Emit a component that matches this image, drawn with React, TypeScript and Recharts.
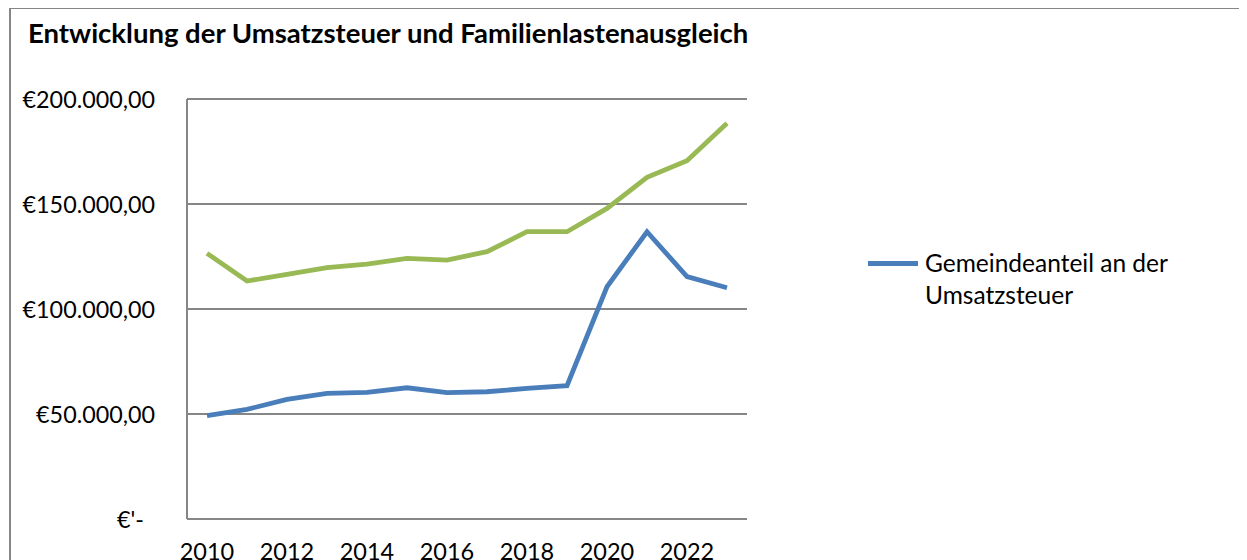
import React from 'react';
import { LineChart, Line, XAxis, YAxis, CartesianGrid, Legend } from 'recharts';

const years = ['2010', '2011', '2012', '2013', '2014', '2015', '2016', '2017', '2018', '2019', '2020', '2021', '2022', '2023'];
const gemeindeanteil = [49200, 52200, 57000, 59800, 60300, 62500, 60200, 60600, 62200, 63500, 110600, 136800, 115400, 110100];
const familienlasten = [126500, 113300, 116500, 119700, 121400, 124100, 123300, 127300, 136800, 136800, 147900, 162700, 170600, 188400];
const yTicks = [0, 50000, 100000, 150000, 200000];
const yTickLabels = ["€'-", '€50.000,00', '€100.000,00', '€150.000,00', '€200.000,00'];

const seriesBlue = 'Gemeindeanteil an der Umsatzsteuer';
const seriesGreen = 'Familienlastenausgleich';
const title = 'Entwicklung der Umsatzsteuer und Familienlastenausgleich';

const data = years.map((y, i) => ({ year: y, blue: gemeindeanteil[i], green: familienlasten[i] }));

const BLUE = '#4A7EBB';
const GREEN = '#98B954';
const GRID = '#868686';
const FONT = 'Lato, "Liberation Sans", sans-serif';

const YTick = (props: any) => {
  const { x, y, payload } = props;
  const idx = yTicks.indexOf(payload.value);
  const label = idx >= 0 ? yTickLabels[idx] : String(payload.value);
  const extra = payload.value === 0 ? -11 : 0;
  return (
    <text x={x + extra} y={y} dy={8.5} textAnchor="end" fontFamily={FONT} fontSize={23.3} fill="#000">
      {label}
    </text>
  );
};

const renderLegend = (props: any) => {
  const items = (props.payload || []).filter((p: any) => p.type !== 'none');
  return (
    <div>
      {items.map((p: any, i: number) => (
        <div key={i} style={{ display: 'flex', alignItems: 'flex-start', fontFamily: FONT, fontSize: 24.5, color: '#000' }}>
          <div style={{ width: 50, height: 5, background: p.color, marginTop: 13.5, flex: 'none' }} />
          <div style={{ marginLeft: 7, lineHeight: '32px', width: 290 }}>{p.value}</div>
        </div>
      ))}
    </div>
  );
};

export default function App() {
  return (
    <div
      style={{
        position: 'relative',
        marginLeft: 1,
        marginTop: -1,
        width: 1260,
        height: 580,
        border: `2px solid ${GRID}`,
        background: '#fff',
      }}
    >
      <div
        style={{
          position: 'absolute',
          left: 17,
          top: 7,
          fontFamily: FONT,
          fontWeight: 700,
          fontSize: 27.5,
          lineHeight: '34px',
          color: '#000',
          whiteSpace: 'nowrap',
        }}
      >
        {title}
      </div>
      <LineChart width={1240} height={560} data={data} margin={{ top: 90, right: 174, left: 0, bottom: 10 }}>
        <CartesianGrid vertical={false} stroke={GRID} strokeWidth={2} />
        <XAxis
          dataKey="year"
          interval={1}
          padding={{ left: 20, right: 20 }}
          tickLine={false}
          tickSize={0}
          tickMargin={24}
          height={40}
          axisLine={{ stroke: GRID, strokeWidth: 2 }}
          tick={{ fontFamily: FONT, fontSize: 23.5, fill: '#000' }}
        />
        <YAxis
          width={176}
          domain={[0, 200000]}
          ticks={yTicks}
          tickLine={false}
          tickSize={0}
          tickMargin={32}
          axisLine={{ stroke: GRID, strokeWidth: 2 }}
          tick={<YTick />}
        />
        <Legend
          layout="vertical"
          align="right"
          verticalAlign="top"
          width={330}
          wrapperStyle={{ left: 857, top: 238, width: 330 }}
          content={renderLegend}
        />
        <Line
          name={seriesBlue}
          dataKey="blue"
          stroke={BLUE}
          strokeWidth={4.8}
          dot={false}
          activeDot={false}
          isAnimationActive={false}
          type="linear"
        />
        <Line
          name={seriesGreen}
          dataKey="green"
          stroke={GREEN}
          strokeWidth={4.8}
          dot={false}
          activeDot={false}
          isAnimationActive={false}
          legendType="none"
          type="linear"
        />
      </LineChart>
    </div>
  );
}
